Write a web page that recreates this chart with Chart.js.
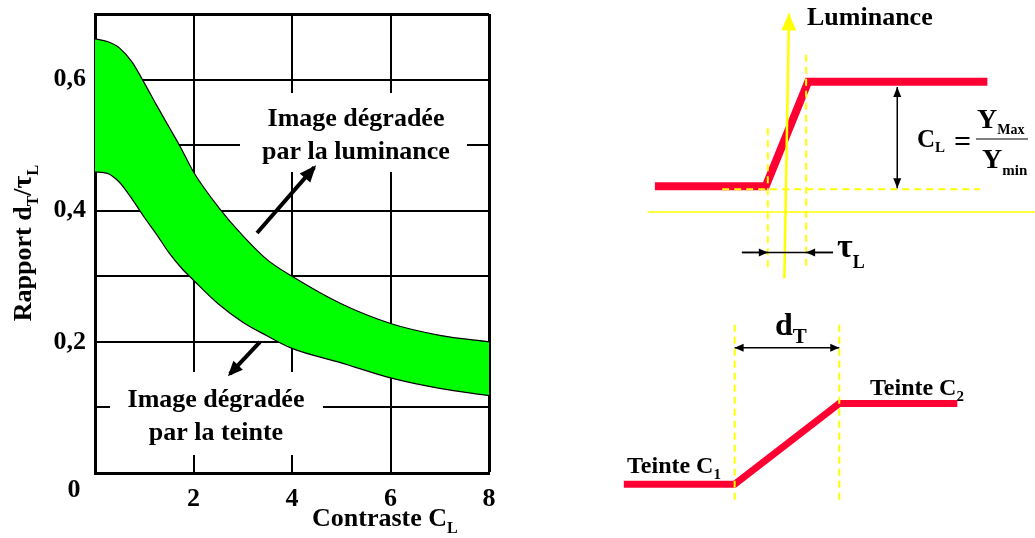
<!DOCTYPE html>
<html>
<head>
  <title>Rapport dT/τL - contraste</title>
  <script src="https://cdn.jsdelivr.net/npm/chart.js"></script>
  <style>
    body { margin: 0; background: #fff; }
    #page { position: relative; width: 1035px; height: 538px; }
    canvas { position: absolute; top: 0; }
    #bandChart { left: 0; }
    #schemaChart { left: 600px; }
  </style>
</head>
<body>
<div id="page">
  <canvas id="bandChart" width="520" height="538"></canvas>
  <canvas id="schemaChart" width="435" height="538"></canvas>
</div>
<script>
// --- courbe de gauche : rapport dT/tauL en fonction du contraste CL
const contraste = [0, 0.25, 0.5, 0.75, 1, 1.25, 1.5, 1.75, 2, 2.5, 3, 3.5, 4, 5, 6, 7, 8];
const limiteLuminance = [0.662, 0.658, 0.648, 0.627, 0.595, 0.561, 0.528, 0.495, 0.459, 0.406, 0.362, 0.325, 0.30, 0.258, 0.228, 0.21, 0.20];
const limiteTeinte = [0.459, 0.457, 0.443, 0.418, 0.39, 0.364, 0.336, 0.313, 0.294, 0.258, 0.23, 0.209, 0.19, 0.168, 0.145, 0.129, 0.118];
const yLabels = [0.2, 0.4, 0.6];
const flecheLuminance = [[3.29, 0.366], [4.45, 0.466]];
const flecheTeinte = [[3.35, 0.200], [2.74, 0.151]];

// --- schémas de droite (unités arbitraires)
const luminanceT = [5.3, 16.0, 20.1, 37.4];
const luminanceY = [34.0, 34.0, 44.1, 44.1];
const teinteT = [2.3, 13.0, 23.1, 34.5];
const teinteY = [5.2, 5.2, 13.0, 13.0];
const axeLuminance = [[17.8, 25.1], [18.25, 50.7]];
const axeTemps = [[4.6, 31.5], [42, 31.5]];
const niveauMin = [[11.8, 33.7], [36.7, 33.7]];
const repereTau1 = [[16.2, 39.6], [16.2, 25.9]];
const repereTau2 = [[19.9, 46.7], [19.9, 26.2]];
const flecheCL = [[28.7, 43.6], [28.7, 33.8]];
const ligneTau = [[13.7, 27.6], [22.5, 27.6]];
const flecheTauG = [[13.7, 27.6], [16.2, 27.6]];
const flecheTauD = [[22.5, 27.6], [19.9, 27.6]];
const repereD1 = [[13.0, 20.6], [13.0, 3.4]];
const repereD2 = [[23.1, 20.6], [23.1, 3.4]];
const flecheDT = [[13.0, 18.4], [23.1, 18.4]];

const ROUGE = '#ff0033';
const JAUNE = '#ffff00';
const POLICE = '"Liberation Serif", "Times New Roman", serif';

function ecrire(ctx, x, y, morceaux, align) {
  let largeur = 0;
  morceaux.forEach(m => {
    ctx.font = 'bold ' + m[1] + 'px ' + POLICE;
    largeur += ctx.measureText(m[0]).width;
  });
  let cx = align === 'center' ? x - largeur / 2 : x;
  ctx.textAlign = 'left';
  ctx.textBaseline = 'alphabetic';
  ctx.fillStyle = '#000';
  morceaux.forEach(m => {
    ctx.font = 'bold ' + m[1] + 'px ' + POLICE;
    ctx.fillText(m[0], cx, y + (m[2] || 0));
    cx += ctx.measureText(m[0]).width;
  });
}

const pts = arr => arr.map(p => ({ x: p[0], y: p[1] }));
const trait = (arr, couleur, epaisseur, extra) => Object.assign({
  data: pts(arr), showLine: true, borderColor: couleur, backgroundColor: couleur,
  borderWidth: epaisseur, pointRadius: 0, fill: false, tension: 0,
  borderCapStyle: 'butt', borderJoinStyle: 'miter'
}, extra || {});

// pointes de flèches, orientées selon le dernier segment
const fleches = {
  id: 'fleches',
  afterDatasetsDraw(chart) {
    const ctx = chart.ctx;
    chart.data.datasets.forEach((ds, i) => {
      if (!ds.tete) return;
      const el = chart.getDatasetMeta(i).data;
      const pose = (a, b) => {
        const ang = Math.atan2(b.y - a.y, b.x - a.x);
        const L = ds.tete.longueur, W = ds.tete.largeur / 2, av = ds.tete.avance || 0;
        ctx.save();
        ctx.translate(b.x, b.y);
        ctx.rotate(ang);
        ctx.beginPath();
        ctx.moveTo(av, 0);
        ctx.lineTo(av - L, -W);
        ctx.lineTo(av - L, W);
        ctx.closePath();
        ctx.fillStyle = ds.borderColor;
        ctx.fill();
        ctx.restore();
      };
      const n = el.length;
      if (ds.tete.fin) pose(el[n - 2], el[n - 1]);
      if (ds.tete.debut) pose(el[1], el[0]);
    });
  }
};

const textesGauche = {
  id: 'textesGauche',
  beforeDatasetsDraw(chart) {
    const ctx = chart.ctx;
    ctx.save();
    ctx.fillStyle = '#fff';
    ctx.fillRect(240, 93, 227, 79);
    ctx.fillRect(110, 372, 213, 83);
    ctx.restore();
  },
  afterDraw(chart) {
    const ctx = chart.ctx;
    ecrire(ctx, 356, 126, [['Image dégradée', 26]], 'center');
    ecrire(ctx, 356, 159, [['par la luminance', 26]], 'center');
    ecrire(ctx, 216, 407, [['Image dégradée', 26]], 'center');
    ecrire(ctx, 216, 440, [['par la teinte', 26]], 'center');
    ecrire(ctx, 74, 497, [['0', 26]], 'center');
    ecrire(ctx, 312, 526, [['Contraste C', 26], ['L', 16, 7]]);
    ctx.save();
    ctx.translate(31, 243);
    ctx.rotate(-Math.PI / 2);
    ecrire(ctx, 0, 0, [['Rapport d', 26], ['T', 16, 7], ['/', 26], ['τ', 28], ['L', 16, 7]], 'center');
    ctx.restore();
  }
};

new Chart(document.getElementById('bandChart'), {
  type: 'scatter',
  data: {
    datasets: [
      {
        label: 'Image dégradée par la luminance',
        data: contraste.map((x, i) => ({ x: x, y: limiteLuminance[i] })),
        showLine: true, borderColor: '#000', borderWidth: 1.2, pointRadius: 0,
        cubicInterpolationMode: 'monotone', fill: false
      },
      {
        label: 'Image dégradée par la teinte',
        data: contraste.map((x, i) => ({ x: x, y: limiteTeinte[i] })),
        showLine: true, borderColor: '#000', borderWidth: 1.2, pointRadius: 0,
        cubicInterpolationMode: 'monotone', fill: '-1', backgroundColor: '#00ff00'
      },
      trait(flecheLuminance, '#000', 4, { tete: { fin: true, longueur: 17, largeur: 14, avance: 3 } }),
      trait(flecheTeinte, '#000', 4, { tete: { fin: true, longueur: 15, largeur: 13, avance: 3 } })
    ]
  },
  options: {
    responsive: false,
    animation: false,
    events: [],
    layout: { padding: { top: 14, right: 31, left: 0, bottom: 0 } },
    plugins: {
      legend: { display: false },
      tooltip: { enabled: false },
      filler: { drawTime: 'beforeDatasetsDraw' }
    },
    scales: {
      x: {
        type: 'linear', min: 0, max: 8,
        afterFit: s => { s.height = 65; s.paddingLeft = 0; s.paddingRight = 0; },
        ticks: {
          stepSize: 2, autoSkip: false, maxRotation: 0, padding: 11, color: '#000',
          font: { family: POLICE, size: 26, weight: 'bold' },
          callback: v => v === 0 ? '' : String(v)
        },
        grid: { color: '#000', lineWidth: c => (c.tick && c.tick.value === 8) ? 3 : 2, drawTicks: false },
        border: { color: '#000', width: 3 }
      },
      y: {
        type: 'linear', min: 0, max: 0.7,
        afterFit: s => { s.width = 95; s.paddingTop = 0; s.paddingBottom = 0; },
        ticks: {
          stepSize: 0.1, autoSkip: false, padding: 9, color: '#000',
          font: { family: POLICE, size: 26, weight: 'bold' },
          callback: v => yLabels.some(t => Math.abs(t - v) < 1e-6) ? v.toFixed(1).replace('.', ',') : ''
        },
        grid: { color: '#000', lineWidth: c => (c.tick && Math.abs(c.tick.value - 0.7) < 1e-6) ? 3 : 2, drawTicks: false },
        border: { color: '#000', width: 3 }
      }
    }
  },
  plugins: [textesGauche, fleches]
});

const textesDroite = {
  id: 'textesDroite',
  afterDraw(chart) {
    const ctx = chart.ctx;
    ecrire(ctx, 207, 25, [['Luminance', 26]]);
    ecrire(ctx, 317, 147, [['C', 25], ['L', 15, 5]]);
    ecrire(ctx, 354, 151, [['=', 30]]);
    ecrire(ctx, 377, 128, [['Y', 28], ['Max', 14, 6]]);
    ecrire(ctx, 382, 168, [['Y', 28], ['min', 15, 7]]);
    ctx.save();
    ctx.strokeStyle = '#000';
    ctx.lineWidth = 1.2;
    ctx.beginPath();
    ctx.moveTo(376, 139);
    ctx.lineTo(428, 139);
    ctx.stroke();
    ctx.restore();
    ecrire(ctx, 237, 257, [['τ', 34], ['L', 18, 11]]);
    ecrire(ctx, 175, 335, [['d', 32], ['T', 21, 8]]);
    ecrire(ctx, 270, 395, [['Teinte C', 24], ['2', 15, 6]]);
    ecrire(ctx, 27, 473, [['Teinte C', 24], ['1', 15, 6]]);
  }
};

const pointille = { borderDash: [7, 5] };
new Chart(document.getElementById('schemaChart'), {
  type: 'scatter',
  data: {
    datasets: [
      trait(luminanceT.map((t, i) => [t, luminanceY[i]]), ROUGE, 8, { order: 3 }),
      trait(teinteT.map((t, i) => [t, teinteY[i]]), ROUGE, 7, { order: 3 }),
      trait(axeTemps, JAUNE, 1.5, { order: 2 }),
      trait(niveauMin, JAUNE, 2, Object.assign({ order: 2 }, pointille)),
      trait(repereTau1, JAUNE, 2, Object.assign({ order: 2 }, pointille)),
      trait(repereTau2, JAUNE, 2, Object.assign({ order: 2 }, pointille)),
      trait(repereD1, JAUNE, 2, Object.assign({ order: 2 }, pointille)),
      trait(repereD2, JAUNE, 2, Object.assign({ order: 2 }, pointille)),
      trait(axeLuminance, JAUNE, 2.5, { order: 1, tete: { fin: true, longueur: 17, largeur: 15 } }),
      trait(flecheCL, '#000', 1.5, { order: 0, tete: { fin: true, debut: true, longueur: 10, largeur: 8 } }),
      trait(ligneTau, '#000', 1.5, { order: 0 }),
      trait(flecheTauG, '#000', 1.5, { order: 0, tete: { fin: true, longueur: 9, largeur: 8 } }),
      trait(flecheTauD, '#000', 1.5, { order: 0, tete: { fin: true, longueur: 9, largeur: 8 } }),
      trait(flecheDT, '#000', 1.5, { order: 0, tete: { fin: true, debut: true, longueur: 9, largeur: 8 } })
    ]
  },
  options: {
    responsive: false,
    animation: false,
    events: [],
    layout: { padding: 0 },
    plugins: { legend: { display: false }, tooltip: { enabled: false } },
    scales: {
      x: { type: 'linear', min: 0, max: 42, display: false },
      y: { type: 'linear', min: 0, max: 52, display: false }
    }
  },
  plugins: [textesDroite, fleches]
});
</script>
</body>
</html>
